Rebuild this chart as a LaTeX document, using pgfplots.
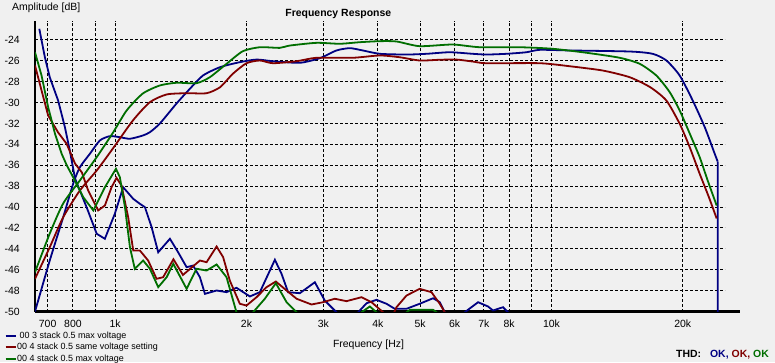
\documentclass[border=0pt]{standalone}
\usepackage{pgfplots}
\pgfplotsset{compat=1.18}
\usepackage{fontspec}
\setmainfont{Liberation Sans}
\definecolor{bgc}{RGB}{240,240,240}
\definecolor{cblue}{RGB}{0,0,130}
\definecolor{cred}{RGB}{128,0,0}
\definecolor{cgreen}{RGB}{0,110,0}
\begin{document}
\begin{tikzpicture}[x=1bp,y=1bp]
\fill[bgc] (0,0) rectangle (775,362);
\begin{axis}[
  at={(35bp,50.5bp)}, anchor=south west, scale only axis,
  width=690bp, height=290.5bp,
  xmode=log, xmin=655, xmax=25000, ymin=-50, ymax=-22.2,
  axis x line*=bottom, axis y line*=left,
  axis line style={-, line width=2.2bp, black},
  x axis line style={shorten >=-15bp},
  xtick={700,800,900,1000,2000,3000,4000,5000,6000,7000,8000,9000,10000,20000},
  xticklabels={700,800,,1k,2k,3k,4k,5k,6k,7k,8k,,10k,20k},
  ytick={-50,-48,-46,-44,-42,-40,-38,-36,-34,-32,-30,-28,-26,-24},
  yticklabels={-50,-48,-46,-44,-42,-40,-38,-36,-34,-32,-30,-28,-26,-24},
  grid=major,
  major grid style={black, line width=0.9bp, dash pattern=on 3bp off 2bp},
  tick style={draw=none},
  ticklabel style={font=\fontsize{10.5}{12}\selectfont},
  yticklabel style={anchor=east, inner sep=0pt, xshift=-15bp},
  xticklabel style={anchor=north, inner sep=0pt, yshift=-8bp},
  every axis plot/.append style={line width=1.8bp},
  legend style={at={(-0.0442,-0.0676)}, anchor=north west, draw=none, fill=none,
    inner sep=0pt, font=\fontsize{9}{10}\selectfont, row sep=2.2bp,
    nodes={inner sep=0.5bp, text height=6.6bp, text depth=1.6bp}},
  legend cell align=left,
  legend image code/.code={\draw[#1, line width=2bp] (0bp,0bp) -- (10bp,0bp);},
]
% blue
\addplot[cblue, forget plot, smooth, tension=0.4] coordinates {
(655,-50.0) (708,-45.12) (760,-40.98) (801,-37.78) (830,-36.19) (875,-34.91)
(922,-33.64) (972,-33.22) (1025,-33.32) (1081,-33.47) (1157,-33.16) (1201,-32.84)
(1266,-32.01) (1382,-30.10) (1483,-28.69) (1589,-27.42) (1739,-26.62) (1931,-26.14)
(2109,-25.89) (2299,-26.05) (2650,-26.20) (2944,-25.76) (3216,-25.02) (3452,-24.80)
(3695,-25.02) (4043,-25.34) (4654,-25.41) (5171,-25.34) (5846,-25.19) (6601,-25.34)
(7096,-25.41) (7885,-25.34) (8764,-25.19) (9402,-24.96) (11014,-25.02) (15114,-25.12)
(17066,-25.34) (18343,-25.98) (19684,-27.42) (21082,-29.81) (22462,-32.36)
(23677,-34.91) (24050,-35.65)
};
\addplot[cblue, forget plot] coordinates {(24050,-35.65) (24060,-51)};
\addplot[cblue] coordinates {
(670,-22.95) (690,-25.67) (708,-27.58) (740,-29.81) (767,-32.36) (787,-34.59)
(809,-37.27) (860,-40.02) (907,-42.56) (947,-43.04) (998,-40.65) (1043,-38.11)
(1100,-39.22) (1139,-39.69) (1170,-40.02) (1212,-41.93) (1255,-44.33) (1335,-43.04)
(1394,-44.33) (1458,-45.76) (1509,-45.6) (1564,-46.72) (1606,-48.31) (1708,-47.99)
(1800,-48.15) (1897,-47.73) (2036,-48.56) (2146,-48.15) (2323,-45.05) (2406,-46.39)
(2491,-48.15) (2650,-48.25) (2869,-47.20) (3023,-48.95) (3216,-50.07) (3300,-51)
(3550,-51) (3606,-50.07) (3769,-49.21) (3972,-48.88) (4187,-49.26) (4374,-49.74)
(4654,-49.74) (4989,-49.26) (5355,-48.73) (5547,-49.11) (5695,-50.07) (5800,-51)
(6200,-51) (6330,-50.07) (6790,-49.11) (7156,-49.52) (7347,-49.9) (7745,-49.59)
(7951,-50.07) (8100,-51)
};
\addlegendentry{\hspace{2.5bp}00 3 stack 0.5 max voltage}
% red
\addplot[cred, forget plot, smooth, tension=0.4] coordinates {
(655,-46.87) (708,-43.85) (760,-40.98) (830,-38.42) (907,-36.51) (988,-34.4)
(1098,-31.72) (1201,-29.97) (1312,-29.23) (1458,-29.11) (1620,-29.11) (1739,-28.54)
(1861,-27.25) (2000,-26.24) (2146,-25.98) (2299,-26.24) (2605,-26.05) (2894,-25.72)
(3505,-25.72) (4043,-25.50) (4493,-25.67) (4989,-25.98) (5547,-25.91) (6057,-25.89)
(6601,-26.08) (7096,-26.24) (9402,-26.24) (11014,-26.53) (13111,-26.94)
(15114,-27.58) (16853,-28.54) (18343,-29.81) (19684,-32.04) (20750,-34.28)
(21870,-36.82) (22930,-39.0) (23920,-41.10)
};
\addplot[cred] coordinates {
(655,-26.46) (678,-28.85) (702,-31.24) (740,-32.87) (774,-33.95) (809,-35.84)
(839,-36.70) (867,-38.42) (914,-40.33) (947,-39.86) (981,-38.11) (1007,-37.21)
(1034,-37.94) (1071,-40.98) (1100,-44.16) (1139,-44.16) (1190,-45.12) (1244,-46.87)
(1288,-46.72) (1360,-45.0) (1430,-46.5) (1564,-45.12) (1620,-45.28) (1708,-43.78)
(1768,-44.80) (1831,-47.03) (1931,-49.26) (2000,-49.43) (2109,-48.63) (2223,-47.67)
(2335,-47.13) (2471,-47.99) (2605,-48.78) (2819,-49.33) (2997,-49.11) (3187,-48.78)
(3390,-49.01) (3671,-48.63) (3870,-49.11) (4112,-50.07) (4262,-51) (4414,-49.59)
(4654,-48.47) (4989,-47.83) (5309,-48.15) (5547,-49.26) (5695,-50.07) (5800,-51)
};
\addlegendentry{00 4 stack 0.5 same voltage setting}
% green
\addplot[cgreen, forget plot, smooth, tension=0.4] coordinates {
(655,-46.24) (708,-42.54) (760,-39.66) (830,-37.46) (907,-35.23) (988,-32.9)
(1062,-30.77) (1157,-29.14) (1266,-28.37) (1382,-28.11) (1536,-28.15) (1648,-27.58)
(1800,-26.30) (1962,-25.09) (2146,-24.71) (2384,-24.77) (2514,-24.55) (2894,-24.29)
(3272,-24.38) (3636,-24.23) (4043,-24.13) (4414,-24.16) (4989,-24.61) (5939,-24.45)
(6845,-24.71) (8457,-24.71) (10070,-24.86) (12030,-25.24) (14340,-25.72)
(15940,-26.30) (17400,-27.42) (18670,-29.01) (19684,-30.77) (20750,-32.97)
(21870,-35.23) (22810,-37.46) (23920,-39.86)
};
\addplot[cgreen] coordinates {
(655,-25.19) (678,-27.42) (702,-30.45) (715,-31.72) (728,-33.0) (754,-34.91)
(775,-36.03) (801,-37.15) (845,-39.06) (891,-40.33) (947,-38.11) (1004,-36.34)
(1025,-37.15) (1053,-40.02) (1081,-43.85) (1109,-45.91) (1159,-45.12) (1201,-45.91)
(1255,-47.67) (1312,-46.72) (1359,-45.44) (1458,-47.83) (1536,-45.91) (1620,-46.08)
(1708,-45.50) (1800,-46.72) (1897,-50.07) (1983,-51) (2071,-50.07) (2203,-48.78)
(2335,-47.29) (2471,-49.11) (2605,-50.07) (2700,-51) (3550,-51) (3671,-50.07)
(3835,-49.52) (3972,-50.07) (4100,-51) (4550,-51) (4654,-50.07) (4736,-49.84)
(5355,-49.84) (5452,-50.07) (5550,-51)
};
\addlegendentry{00 4 stack 0.5 max voltage}
\end{axis}
\node[anchor=west, inner sep=0pt, font=\fontsize{10.5}{12}\selectfont] at (12,354.3) {Amplitude [dB]};
\node[anchor=base, inner sep=0pt, font=\bfseries\fontsize{10.5}{12}\selectfont] at (338.3,346) {Frequency Response};
\node[anchor=base, inner sep=0pt, font=\fontsize{10.5}{12}\selectfont] at (368.5,14.7) {Frequency [Hz]};
\node[anchor=base east, inner sep=0pt, font=\bfseries\fontsize{10.5}{12}\selectfont] at (769,4.3)
  {THD:\hspace{9bp}\textcolor{cblue}{OK,} \textcolor{cred}{OK,} \textcolor{cgreen}{OK}};
\pgfresetboundingbox
\useasboundingbox (0,0) rectangle (775,362);
\end{tikzpicture}
\end{document}
